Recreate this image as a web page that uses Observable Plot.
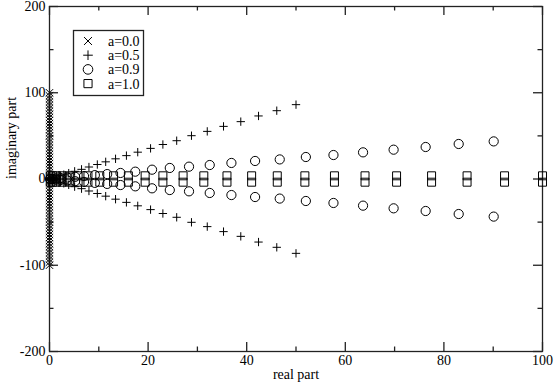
<!DOCTYPE html>
<html><head><meta charset="utf-8">
<script src="https://cdn.jsdelivr.net/npm/d3@7"></script>
<script src="https://cdn.jsdelivr.net/npm/@observablehq/plot@0.6"></script>
<style>
body{margin:0;background:#fff;}
#chart{position:relative;width:554px;height:385px;font-family:"Liberation Serif","Times New Roman",serif;}
#chart svg{display:block;}
#legend{position:absolute;left:0;top:0;}
</style></head><body><div id="chart"></div>
<script>
// Series labels and symbols
const seriesLabels = ["a=0.0", "a=0.5", "a=0.9", "a=1.0"];
const seriesSymbols = ["times", "plus", "circle", "square"];

// a=0.0 : purely imaginary eigenvalues (real part 0), positive imaginary parts (conjugates mirrored)
const imA00 = [100, 96.4, 92.9, 89.3, 85.7, 82.1, 78.6, 75.0, 71.4, 67.9, 64.3, 60.7, 57.1, 53.6, 50.0,
  46.4, 42.9, 39.3, 35.7, 32.1, 28.6, 25.0, 21.4, 17.9, 14.3, 10.7, 7.1, 3.6, 1.2];
const reA00 = imA00.map(() => 0);

// a=0.5
const reA05 = [0.08, 0.32, 0.72, 1.3, 2.0, 2.9, 3.9, 5.1, 6.5, 8.0, 9.7, 11.4, 13.4, 15.6, 17.9,
  20.5, 23.0, 25.8, 28.8, 32.0, 35.3, 38.8, 42.4, 46.1, 50.0];
const imA05 = [0.14, 0.55, 1.25, 2.2, 3.5, 5.0, 6.8, 8.9, 11.2, 13.9, 16.8, 19.9, 23.4, 27.1, 31.1,
  35.5, 40.0, 44.4, 50.2, 55.2, 61.0, 66.5, 73.1, 79.2, 86.2];

// a=0.9
const reA09 = [0.14, 0.58, 1.3, 2.3, 3.6, 5.2, 7.0, 9.2, 11.7, 14.4, 17.4, 20.8, 24.4, 28.3, 32.5,
  36.9, 41.7, 46.7, 52.0, 57.6, 63.6, 69.8, 76.3, 83.0, 90.1];
const imA09 = [0.07, 0.28, 0.63, 1.1, 1.75, 2.5, 3.4, 4.5, 5.7, 7.0, 8.5, 10.8, 12.8, 14.3, 16.2,
  18.6, 20.9, 22.7, 25.5, 27.8, 30.9, 34.0, 37.1, 40.6, 43.6];

// a=1.0
const reA10 = [0.16, 0.64, 1.44, 2.56, 4.0, 5.8, 7.8, 10.2, 13.0, 16.0, 19.4, 23.0, 27.1, 31.3, 36.0,
  41.0, 46.2, 51.8, 57.8, 64.0, 70.4, 77.5, 84.7, 92.3, 100.0];
const imA10 = [3.7, 3.7, 3.7, 3.7, 3.7, 3.7, 3.7, 3.7, 3.7, 3.7, 3.7, 3.7, 3.7, 3.7, 3.7,
  3.7, 3.7, 3.7, 3.7, 3.7, 3.7, 3.7, 3.7, 3.7, 3.7];

// Axes
const xMajor = [0, 20, 40, 60, 80, 100];
const xMinor = [10, 30, 50, 70, 90];
const yMajor = [-200, -100, 0, 100, 200];
const yMinor = [-150, -50, 50, 150];

const W = 554, H = 385;
const mL = 49, mR = 12, mT = 6, mB = 34;
const fw = W - mL - mR, fh = H - mT - mB;
const majorLen = 9, minorLen = 4.5;
const FONT = "'Liberation Serif', 'Times New Roman', serif";

const sizes = {times: 3.4, plus: 2.8, circle: 4.6, square: 4.5};

function dots(re, im, sym) {
  const o = {symbol: sym, r: sizes[sym], stroke: "black", strokeWidth: 1, fill: "none"};
  return [
    Plot.dot(re, {...o, x: re, y: im}),
    Plot.dot(re, {...o, x: re, y: im.map(v => -v)})
  ];
}

const plot = Plot.plot({
  width: W, height: H,
  marginLeft: mL, marginRight: mR, marginTop: mT, marginBottom: mB,
  x: {domain: [0, 100], axis: null},
  y: {domain: [-200, 200], axis: null},
  style: {fontFamily: FONT, fontSize: "14px", color: "black", background: "white"},
  marks: [
    // ticks (inward, mirrored on all sides)
    Plot.tickX(xMajor, {x: d => d, insetTop: fh - majorLen, stroke: "#222", strokeWidth: 1.3}),
    Plot.tickX(xMajor, {x: d => d, insetBottom: fh - majorLen, stroke: "#222", strokeWidth: 1.3}),
    Plot.tickX(xMinor, {x: d => d, insetTop: fh - minorLen, stroke: "#222", strokeWidth: 1.3}),
    Plot.tickX(xMinor, {x: d => d, insetBottom: fh - minorLen, stroke: "#222", strokeWidth: 1.3}),
    Plot.tickY(yMajor, {y: d => d, insetRight: fw - majorLen, stroke: "#222", strokeWidth: 1.3}),
    Plot.tickY(yMajor, {y: d => d, insetLeft: fw - majorLen, stroke: "#222", strokeWidth: 1.3}),
    Plot.tickY(yMinor, {y: d => d, insetRight: fw - minorLen, stroke: "#222", strokeWidth: 1.3}),
    Plot.tickY(yMinor, {y: d => d, insetLeft: fw - minorLen, stroke: "#222", strokeWidth: 1.3}),
    Plot.axisX(xMajor, {anchor: "bottom", tickSize: 0, tickPadding: 4, label: null, fontSize: 14, fontFamily: FONT, tickFormat: d => `${d}`}),
    Plot.axisY(yMajor, {anchor: "left", tickSize: 0, tickPadding: 4, label: null, fontSize: 14, fontFamily: FONT, tickFormat: d => `${d}`}),
    Plot.frame({stroke: "#222", strokeWidth: 1.3}),
    Plot.text(["real part"], {frameAnchor: "bottom", dy: 27, fontSize: 14, fontFamily: FONT, fill: "black"}),
    Plot.text(["imaginary part"], {frameAnchor: "left", dx: -38, rotate: -90, fontSize: 14, fontFamily: FONT, fill: "black"}),
    ...dots(reA10, imA10, "square"),
    ...dots(reA09, imA09, "circle"),
    ...dots(reA05, imA05, "plus"),
    ...dots(reA00, imA00, "times")
  ]
});

const chart = document.getElementById("chart");
chart.appendChild(plot);

// Legend box (overlay inside the plot frame)
const leg = d3.select(chart).append("svg")
  .attr("id", "legend").attr("width", W).attr("height", H)
  .style("pointer-events", "none");
leg.append("rect").attr("x", 73.5).attr("y", 30.5).attr("width", 70).attr("height", 65)
  .attr("fill", "white").attr("stroke", "#222").attr("stroke-width", 1.3);
const symMap = {times: d3.symbolTimes, plus: d3.symbolPlus, circle: d3.symbolCircle, square: d3.symbolSquare};
const legSizes = {times: 3.7, plus: 3.2, circle: 4.8, square: 4.6};
seriesLabels.forEach((lab, i) => {
  const cy = 41 + i * 14.2;
  const s = seriesSymbols[i];
  leg.append("path")
    .attr("transform", `translate(88,${cy})`)
    .attr("d", d3.symbol(symMap[s], legSizes[s] * legSizes[s] * Math.PI)())
    .attr("fill", "none").attr("stroke", "black").attr("stroke-width", 1);
  leg.append("text").attr("x", 108).attr("y", cy).attr("dy", "0.35em")
    .attr("font-family", FONT).attr("font-size", 14)
    .attr("fill", "black").text(lab);
});
</script>
</body></html>
